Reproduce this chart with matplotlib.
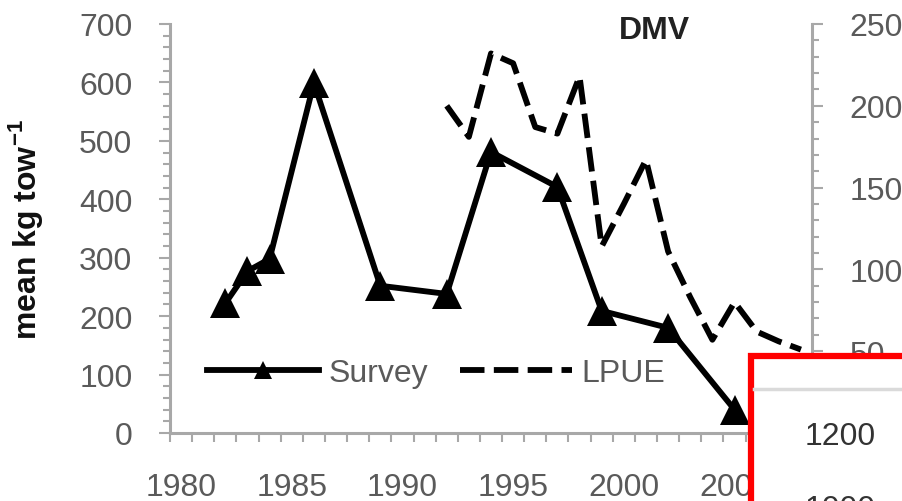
import numpy as np
import matplotlib
matplotlib.use('Agg')
import matplotlib.pyplot as plt
from matplotlib.ticker import MultipleLocator, FixedLocator
from matplotlib.patches import Rectangle
from matplotlib.lines import Line2D

plt.rcParams['font.family'] = ['Liberation Sans', 'DejaVu Sans']
plt.rcParams['mathtext.fontset'] = 'custom'
plt.rcParams['mathtext.rm'] = 'Liberation Sans'
plt.rcParams['mathtext.bf'] = 'Liberation Sans:bold'

# survey index (left axis) and landings per unit effort (right axis)
survey_years = [1982, 1983, 1984, 1986, 1989, 1992, 1994, 1997, 1999, 2002, 2005]
survey_kg = [222, 277, 298, 599, 252, 238, 481, 421, 209, 180, 40]
lpue_years = [1992, 1993, 1994, 1995, 1996, 1997, 1998, 1999, 2000,
              2001, 2002, 2003, 2004, 2005, 2006, 2007, 2008]
lpue = [200, 181, 232, 226, 187, 183, 218, 114, 140, 167, 111, 83, 57, 80, 62, 56, 51]
year_labels = [1980, 1985, 1990, 1995, 2000, 2005]

W, H = 902, 502
grey = '#a8a8a8'
txt = '#5a5a5a'
fs = 23

fig = plt.figure(figsize=(W / 100, H / 100), dpi=100)
ax = fig.add_axes([170 / W, 1 - 434 / H, 642 / W, 409 / H])
ax2 = ax.twinx()

ax.plot(survey_years, survey_kg, color='black', lw=4.2, marker='^', ms=22,
        markeredgewidth=0, zorder=3)
ax2.plot(lpue_years, lpue, color='black', lw=4.2, dashes=(4.2, 1.6),
         dash_capstyle='butt', zorder=3)

# category style x axis: marks between years, labels on the years
ax.set_xlim(1979.5, 2008.5)
ax.set_xticks(year_labels)
ax.xaxis.set_minor_locator(FixedLocator(np.arange(1979.5, 2009, 1)))
ax.tick_params(axis='x', which='major', length=0, pad=28, labelsize=fs, labelcolor=txt)
ax.tick_params(axis='x', which='minor', length=6.5, width=1.5, color=grey, direction='out')

ax.set_ylim(0, 700)
ax.yaxis.set_major_locator(MultipleLocator(100))
ax.yaxis.set_minor_locator(MultipleLocator(20))
ax.tick_params(axis='y', which='major', length=8, width=1.5, color=grey, pad=19,
               labelsize=fs, labelcolor=txt)
ax.tick_params(axis='y', which='minor', length=5, width=1.5, color=grey)

ax2.set_ylim(0, 250)
ax2.yaxis.set_major_locator(MultipleLocator(50))
ax2.yaxis.set_minor_locator(MultipleLocator(10))
ax2.tick_params(axis='y', which='major', length=8, width=1.5, color=grey, pad=19,
                labelsize=fs, labelcolor=txt)
ax2.tick_params(axis='y', which='minor', length=5, width=1.5, color=grey)

for a in (ax, ax2):
    a.spines['top'].set_visible(False)
    for s in ('left', 'right', 'bottom'):
        a.spines[s].set_color(grey)
        a.spines[s].set_linewidth(2.2)
ax.spines['right'].set_visible(False)
ax2.spines['left'].set_visible(False)
ax2.spines['bottom'].set_visible(False)

ax.set_ylabel(r'mean kg tow$^{\mathbf{-1}}$', fontsize=fs, fontweight='bold', color='#111111')
ax.yaxis.set_label_coords(-0.195, 0.5)

ax.text(0.755, 0.985, 'DMV', transform=ax.transAxes, ha='center', va='center',
        fontsize=fs, fontweight='bold', color='#222222')

handles = [Line2D([], [], color='black', lw=4.2, marker='^', ms=13, markeredgewidth=0),
           Line2D([], [], color='black', lw=4.2, dashes=(4.2, 1.6), dash_capstyle='butt')]
leg = ax2.legend(handles, ['Survey', 'LPUE'], ncol=2, frameon=False, fontsize=fs,
                 loc='center left', bbox_to_anchor=(0.0576, 0.147),
                 borderaxespad=0, borderpad=0, handlelength=3.5,
                 handletextpad=0.3, columnspacing=1.0)
for t in leg.get_texts():
    t.set_color(txt)

# red framed inset corner overlapping the chart
fig.patches.append(Rectangle((750.7 / W, -0.2), 0.4, 0.2 + 1 - 357 / H,
                             transform=fig.transFigure, facecolor='white',
                             edgecolor='#ff0000', lw=4.5, zorder=10))
fig.add_artist(Line2D([754 / W, 1.0], [1 - 390 / H, 1 - 390 / H],
                      transform=fig.transFigure, color='#dadada', lw=2.5, zorder=11))
fig.text(840 / W, 1 - 437 / H, '1200', ha='center', va='center', fontsize=fs,
         color='#333333', zorder=12)
fig.text(840 / W, 1 - 510 / H, '1000', ha='center', va='center', fontsize=fs,
         color='#333333', zorder=12)

fig.savefig('out.png', dpi=100)
